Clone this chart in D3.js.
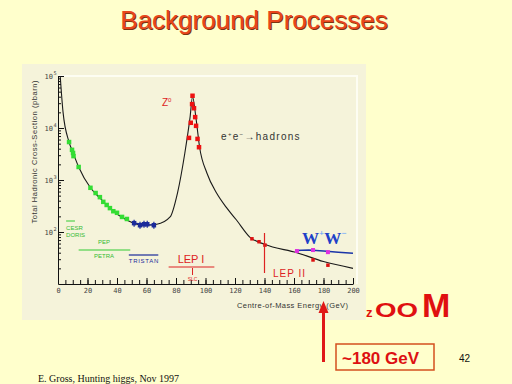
<!DOCTYPE html>
<html>
<head>
<meta charset="utf-8">
<script src="https://cdn.jsdelivr.net/npm/d3@7"></script>
<style>
  html, body { margin: 0; padding: 0; background: #ffffcc; }
  svg { display: block; }
</style>
</head>
<body>
<div id="slide"></div>
<script>
// hadronic cross-section curve (GeV, pb)
const curveE = [1.5, 3.4, 7.5, 10, 14, 22, 28.5, 35, 46.5, 57.8, 67, 76, 81, 86, 89.5, 91.2, 93.5, 96, 101, 107.5, 114, 121, 130, 140, 162, 180, 200];
const curveSigma = [100000, 20400, 5370, 3470, 1780, 708, 447, 288, 170, 135, 141, 195, 562, 3310, 15800, 39800, 15800, 4270, 1350, 562, 300, 170, 80, 58, 40, 27, 20];

// measurements
const greenE = [7.5, 9.5, 10.2, 10.5, 14, 22, 25.5, 28.4, 30.7, 33, 35.2, 37.5, 40, 43.4, 46.7];
const greenSigma = [5370, 3800, 3310, 2880, 1780, 708, 562, 468, 380, 331, 288, 251, 234, 195, 178];
const blueE = [51.6, 55.6, 58.3, 60.5, 65];
const blueSigma = [148, 135, 141, 141, 135];
const zE = [91.2, 90.9, 92.2, 93, 90, 93.6, 88.8, 94.6, 95.6];
const zSigma = [41700, 28800, 24000, 16200, 12600, 11000, 6460, 6170, 4270];
const lep2E = [131.5, 136.3, 140.3, 172.9, 183];
const lep2Sigma = [74, 65, 56, 29, 23];
const wwPointE = [162, 172.9, 183];
const wwPointSigma = [43, 45, 41];
const wwE = [161, 170, 180, 190, 200];
const wwSigma = [44, 45, 43, 41, 39];

// collider energy ranges
const colliders = [
  { name: "CESR/DORIS", from: 5.5, to: 11.5 },
  { name: "PEP/PETRA", from: 14, to: 49 },
  { name: "TRISTAN", from: 48, to: 68 },
  { name: "LEP I", from: 75, to: 106 },
];

const xTicks = [0, 20, 40, 60, 80, 100, 120, 140, 160, 180, 200];
const yTicks = [100, 1000, 10000, 100000];
const yTickExp = ["2", "3", "4", "5"];

const svg = d3.select("#slide").append("svg").attr("width", 512).attr("height", 384);
svg.append("rect").attr("width", 512).attr("height", 384).attr("fill", "#ffffcc");

// title
const title = "Background Processes";
svg.append("text").attr("x", 255).attr("y", 30).attr("text-anchor", "middle")
  .attr("font-family", "Liberation Sans, Arial, sans-serif").attr("font-size", 26)
  .attr("fill", "#7a3410").text(title);
svg.append("text").attr("x", 254).attr("y", 29).attr("text-anchor", "middle")
  .attr("font-family", "Liberation Sans, Arial, sans-serif").attr("font-size", 26)
  .attr("fill", "#e8461c").text(title);

// scanned plot panel
svg.append("rect").attr("x", 22).attr("y", 64).attr("width", 344).attr("height", 256).attr("fill", "#f5f3da");

const x = d3.scaleLinear().domain([0, 200]).range([58, 353]);
const y = d3.scaleLog().domain([10, 100000]).range([284, 76]);

// frame
svg.append("path").attr("d", `M58,76H357V284`).attr("fill", "none").attr("stroke", "#fdfdf2").attr("stroke-width", 2);

const plot = svg.append("g");

// x axis
const minorX = d3.range(0, 201, 5);
plot.append("g").attr("transform", "translate(0,284)")
  .call(d3.axisBottom(x).tickValues(minorX).tickSize(-4).tickFormat(""))
  .call((g) => g.select(".domain").remove());
const xAxis = plot.append("g").attr("transform", "translate(0,284)")
  .call(d3.axisBottom(x).tickValues(xTicks).tickSize(-6).tickPadding(4).tickSizeOuter(0));
xAxis.selectAll("text").attr("font-size", 7).attr("fill", "#444").attr("font-family", "DejaVu Sans Mono, monospace");

// y axis
const minorY = [];
[10, 100, 1000, 10000].forEach((d) => {
  for (let k = 2; k <= 9; k++) minorY.push(d * k);
});
plot.append("g").attr("transform", "translate(58,0)")
  .call(d3.axisLeft(y).tickValues(minorY).tickSize(-3).tickFormat(""))
  .call((g) => g.select(".domain").remove());
plot.append("g").attr("transform", "translate(58,0)")
  .call(d3.axisLeft(y).tickValues(yTicks).tickSize(-6).tickFormat("").tickSizeOuter(0));
plot.selectAll(".tick line, .domain").attr("stroke", "#111");

plot.selectAll(".ylab").data(yTicks).enter().append("text")
  .attr("class", "ylab").attr("x", 53).attr("y", (d) => y(d) + 3)
  .attr("text-anchor", "end").attr("font-size", 7).attr("fill", "#444")
  .attr("font-family", "DejaVu Sans Mono, monospace").text("10");
yTicks.forEach((d, i) => {
  plot.append("text").attr("x", 53.5).attr("y", y(d) - 1).attr("font-size", 5)
    .attr("fill", "#444").attr("font-family", "DejaVu Sans, sans-serif").text(yTickExp[i]);
});

// axis titles
svg.append("text").attr("transform", "translate(37,152) rotate(-90)").attr("text-anchor", "middle")
  .attr("font-size", 7.5).attr("fill", "#333").attr("font-family", "Liberation Sans, Arial, sans-serif")
  .attr("textLength", 143).text("Total Hadronic Cross-Section (pbarn)");
svg.append("text").attr("x", 237).attr("y", 308)
  .attr("font-size", 7.5).attr("fill", "#333").attr("font-family", "Liberation Sans, Arial, sans-serif")
  .attr("textLength", 111).text("Centre-of-Mass Energy (GeV)");

// theory curve
const line = d3.line().x((d) => x(d[0])).y((d) => y(d[1])).curve(d3.curveMonotoneX);
plot.append("path").datum(curveE.map((e, i) => [e, curveSigma[i]]))
  .attr("d", line).attr("fill", "none").attr("stroke", "#1a1a1a").attr("stroke-width", 1.1);

// WW line
plot.append("path").datum(wwE.map((e, i) => [e, wwSigma[i]]))
  .attr("d", d3.line().x((d) => x(d[0])).y((d) => y(d[1])))
  .attr("fill", "none").attr("stroke", "#1a35a8").attr("stroke-width", 1.5);

// data points
function drawPoints(es, ss, color, size, errLen) {
  const g = plot.append("g");
  es.forEach((e, i) => {
    if (errLen) {
      g.append("line").attr("x1", x(e)).attr("x2", x(e))
        .attr("y1", y(ss[i]) - errLen).attr("y2", y(ss[i]) + errLen)
        .attr("stroke", color).attr("stroke-width", 1.2);
    }
    g.append("rect").attr("x", x(e) - size / 2).attr("y", y(ss[i]) - size / 2)
      .attr("width", size).attr("height", size).attr("fill", color);
  });
}
// blue connector
plot.append("line").attr("x1", x(blueE[0])).attr("x2", x(blueE[blueE.length - 1]))
  .attr("y1", y(blueSigma[0])).attr("y2", y(blueSigma[blueSigma.length - 1]))
  .attr("stroke", "#1a2a9a").attr("stroke-width", 1.2);
drawPoints(greenE, greenSigma, "#33dd33", 4.5, 0);
drawPoints(blueE, blueSigma, "#1a2a9a", 4.5, 3.5);
drawPoints(zE, zSigma, "#ee1111", 4.5, 0);
drawPoints(lep2E, lep2Sigma, "#dd1111", 3.5, 0);
drawPoints(wwPointE, wwPointSigma, "#e030e0", 4, 0);

// collider ranges
const sans = "Liberation Sans, Arial, sans-serif";
const cd = colliders[0], pp = colliders[1], tr = colliders[2], l1 = colliders[3];
plot.append("line").attr("x1", x(cd.from)).attr("x2", x(cd.to)).attr("y1", 221).attr("y2", 221).attr("stroke", "#33cc33");
plot.append("text").attr("x", x(cd.from)).attr("y", 230).attr("font-size", 6).attr("fill", "#33bb33").attr("font-family", sans).text("CESR");
plot.append("text").attr("x", x(cd.from)).attr("y", 237).attr("font-size", 6).attr("fill", "#33bb33").attr("font-family", sans).text("DORIS");
plot.append("line").attr("x1", x(pp.from)).attr("x2", x(pp.to)).attr("y1", 250).attr("y2", 250).attr("stroke", "#33cc33").attr("stroke-width", 1.2);
plot.append("text").attr("x", 104).attr("y", 244).attr("text-anchor", "middle").attr("font-size", 6).attr("fill", "#33bb33").attr("font-family", sans).text("PEP");
plot.append("text").attr("x", 104).attr("y", 258).attr("text-anchor", "middle").attr("font-size", 6).attr("fill", "#33bb33").attr("font-family", sans).text("PETRA");
plot.append("line").attr("x1", x(tr.from)).attr("x2", x(tr.to)).attr("y1", 255).attr("y2", 255).attr("stroke", "#1a2a9a").attr("stroke-width", 1.2);
plot.append("text").attr("x", x(tr.from)).attr("y", 263).attr("font-size", 6).attr("fill", "#1a2a9a").attr("font-family", sans)
  .attr("textLength", x(tr.to) - x(tr.from)).text("TRISTAN");
plot.append("line").attr("x1", x(l1.from)).attr("x2", x(l1.to)).attr("y1", 267).attr("y2", 267).attr("stroke", "#dd2222").attr("stroke-width", 1.2);
plot.append("text").attr("x", 191).attr("y", 263).attr("text-anchor", "middle").attr("font-size", 11).attr("fill", "#dd2222").attr("font-family", sans).text("LEP I");
plot.append("line").attr("x1", x(91.2)).attr("x2", x(91.2)).attr("y1", 268).attr("y2", 275).attr("stroke", "#dd2222");
plot.append("text").attr("x", x(91.2)).attr("y", 281).attr("text-anchor", "middle").attr("font-size", 5).attr("fill", "#dd2222").attr("font-family", sans).text("SLC");
plot.append("line").attr("x1", x(140)).attr("x2", x(140)).attr("y1", 233).attr("y2", 273).attr("stroke", "#dd2222").attr("stroke-width", 1.2);
plot.append("text").attr("x", 273).attr("y", 277).attr("font-size", 10).attr("fill", "#dd2222").attr("font-family", sans)
  .attr("letter-spacing", 1).text("LEP II");

// labels in plot
const zl = plot.append("text").attr("x", 162).attr("y", 106).attr("font-size", 10).attr("fill", "#dd2222").attr("font-family", sans);
zl.append("tspan").text("Z");
zl.append("tspan").attr("dy", -4).attr("font-size", 6).text("0");
const ee = plot.append("text").attr("x", 221).attr("y", 140).attr("font-size", 10).attr("fill", "#333")
  .attr("letter-spacing", 1.3).attr("font-family", sans);
ee.append("tspan").text("e");
ee.append("tspan").attr("dy", -4).attr("font-size", 6).text("+");
ee.append("tspan").attr("dy", 4).text("e");
ee.append("tspan").attr("dy", -4).attr("font-size", 6).text("\u2212");
ee.append("tspan").attr("dy", 4).text("\u2192hadrons");
const ww = plot.append("text").attr("x", 302).attr("y", 244).attr("font-size", 17).attr("font-weight", "bold")
  .attr("fill", "#2040c8").attr("font-family", "Liberation Serif, Times New Roman, serif");
ww.append("tspan").text("W");
ww.append("tspan").attr("dy", -8).attr("font-size", 9).attr("fill", "#5aa0ff").text("+");
ww.append("tspan").attr("dy", 8).text("W");
ww.append("tspan").attr("dy", -8).attr("font-size", 9).attr("fill", "#5aa0ff").text("\u2212");

// zoom note
svg.append("text").attr("x", 366).attr("y", 317).attr("fill", "#e01010").attr("font-weight", "bold")
  .attr("font-family", sans).attr("font-size", 13).text("z");
svg.append("text").attr("x", 375).attr("y", 317).attr("fill", "#e01010").attr("font-weight", "bold")
  .attr("font-family", sans).attr("font-size", 21).attr("textLength", 43).attr("lengthAdjust", "spacingAndGlyphs").text("OO");
svg.append("text").attr("x", 422).attr("y", 317).attr("fill", "#e01010").attr("font-weight", "bold")
  .attr("font-family", sans).attr("font-size", 34).text("M");

// arrow to 180 GeV
const ax = x(180);
svg.append("line").attr("x1", ax).attr("x2", ax).attr("y1", 362).attr("y2", 311).attr("stroke", "#e01818").attr("stroke-width", 3);
svg.append("path").attr("d", `M${ax},301L${ax - 5},313L${ax + 5},313Z`).attr("fill", "#e01818");

svg.append("rect").attr("x", 336).attr("y", 344).attr("width", 98).attr("height", 26)
  .attr("fill", "none").attr("stroke", "#d4501e").attr("stroke-width", 1.5);
svg.append("text").attr("x", 342).attr("y", 364).attr("font-size", 17).attr("font-weight", "bold")
  .attr("fill", "#dd1111").attr("font-family", sans).text("~180 GeV");

svg.append("text").attr("x", 459).attr("y", 362).attr("font-size", 10).attr("fill", "#111").attr("font-family", sans).text("42");
svg.append("text").attr("x", 38).attr("y", 382).attr("font-size", 10).attr("fill", "#111")
  .attr("font-family", "Liberation Serif, Times New Roman, serif").text("E. Gross, Hunting higgs, Nov 1997");
</script>
</body>
</html>
